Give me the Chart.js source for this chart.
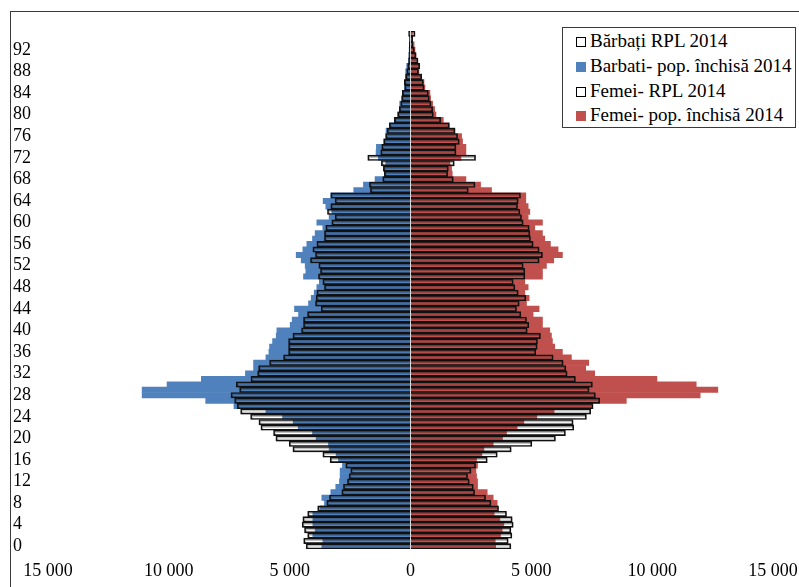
<!DOCTYPE html>
<html>
<head>
<meta charset="utf-8">
<script src="https://cdn.jsdelivr.net/npm/chart.js@4.4.1/dist/chart.umd.min.js"></script>
<style>
  body { margin: 0; background: #fff; }
  #wrap { position: absolute; left: 0; top: 0; width: 799px; height: 587px; overflow: hidden; }
  #pyramid { position: absolute; left: 0; top: 0; }
  #frame { position: absolute; left: 10px; top: 11px; width: 820px; height: 620px; border: 1px solid #3a3a3a; }
  #legend {
    position: absolute; left: 562px; top: 27px; width: 232px; height: 99px;
    border: 1px solid #3a3a3a; background: #fff;
    font-family: 'Liberation Serif', serif; font-size: 19px; color: #000;
  }
  .item { position: absolute; left: 13px; height: 22px; line-height: 22px; white-space: nowrap; }
  .box { display: inline-block; width: 10px; height: 10px; margin-right: 4px; vertical-align: 0px; box-sizing: border-box; }
</style>
</head>
<body>
<div id="wrap">
  <div id="frame"></div>
  <canvas id="pyramid" width="799" height="587"></canvas>
  <div id="legend">
    <div class="item" style="top:2px"><span class="box" style="border:1px solid #000;background:#fff"></span>Bărbați RPL 2014</div>
    <div class="item" style="top:27px"><span class="box" style="background:#4f81bd"></span>Barbati- pop. închisă 2014</div>
    <div class="item" style="top:52px"><span class="box" style="border:1px solid #000;background:#fff"></span>Femei- RPL 2014</div>
    <div class="item" style="top:76px"><span class="box" style="background:#c0504d"></span>Femei- pop. închisă 2014</div>
  </div>
</div>
<script>
// Ages 0..95 (index = age)
const ages = Array.from({ length: 96 }, (_, i) => String(i));

// Men, census RPL 2014
const menRPL = [
    4317, 4420, 4255, 4386, 4482, 4454, 4255, 3842, 3463, 3353,
    2843, 2774, 2609, 2540, 2472, 2678, 3325, 3628, 4867, 5019,
    5570, 5667, 6190, 6273, 6617, 7030, 7167, 7278, 7429, 7071,
    7209, 6603, 6327, 6286, 5832, 5253, 5046, 5046, 5046, 4867,
    4509, 4427, 4427, 4261, 3697, 3931, 3904, 3876, 3560, 3628,
    3808, 3725, 3794, 4138, 3931, 4041, 3876, 3560, 3560, 3505,
    3257, 3119, 3436, 3298, 3119, 3298, 1659, 1700, 1150, 1081,
    1122, 1205, 1769, 1232, 1191, 1108, 1026, 970, 874, 668,
    530, 461, 406, 365, 337, 240, 255, 200, 158, 117,
    80, 70, 60, 50, 40, 80
];
// Men, closed population 2014
const menClosed = [
    3670, 3628, 4041, 3945, 4041, 4041, 4041, 3746, 3560, 3670,
    3298, 3092, 2940, 2912, 2912, 2816, 2981, 3078, 3367, 3394,
    3904, 4055, 4648, 4854, 5295, 5983, 7305, 8475, 11105, 11105,
    10073, 8654, 6830, 6493, 6493, 5983, 5860, 5832, 5708, 5556,
    5529, 4978, 4895, 4633, 4799, 4220, 4110, 3986, 3876, 3773,
    4427, 4330, 4358, 4523, 4730, 4454, 4289, 4055, 3945, 3628,
    3876, 3367, 3257, 3505, 3615, 3298, 2348, 1948, 1467, 1081,
    1122, 1026, 1329, 1425, 1411, 1108, 1026, 1012, 874, 668,
    530, 461, 447, 365, 337, 250, 255, 213, 200, 158,
    80, 60, 50, 40, 30, 40
];
// Women, census RPL 2014
const womenRPL = [
    4152, 4041, 4193, 4152, 4248, 4207, 3973, 3643, 3326, 3105,
    2651, 2596, 2430, 2361, 2499, 2692, 3174, 3587, 4165, 5019,
    5997, 6410, 6754, 6727, 7278, 7457, 7553, 7828, 7649, 7388,
    7525, 6823, 6479, 6424, 6314, 5900, 5184, 5240, 5253, 5377,
    4827, 4895, 4799, 4565, 4386, 4496, 4771, 4455, 4317, 4248,
    4730, 4730, 4661, 5322, 5460, 5322, 5074, 4964, 4937, 4909,
    4661, 4593, 4524, 4427, 4455, 4551, 2389, 2665, 1770, 1535,
    1563, 1810, 2692, 1880, 1880, 2017, 1948, 1838, 1604, 1246,
    943, 916, 847, 778, 737, 558, 530, 461, 330, 379,
    310, 227, 158, 100, 90, 186
];
// Women, closed population 2014
const womenClosed = [
    3525, 3505, 3725, 3794, 3863, 3697, 3463, 3600, 3587, 3422,
    3174, 2775, 2775, 2733, 2706, 2775, 2733, 2954, 3036, 3422,
    3807, 3973, 4413, 4689, 5226, 5942, 7525, 8930, 11987, 12717,
    11822, 10197, 7622, 7250, 7374, 6658, 6286, 5969, 5873, 5832,
    5763, 5460, 5460, 5074, 5322, 4799, 4909, 4730, 4868, 4730,
    5460, 5460, 5625, 5928, 6286, 6107, 5790, 5556, 5460, 5143,
    5460, 4868, 4937, 4868, 4771, 4771, 3353, 2899, 2293, 1728,
    1700, 1632, 2086, 2293, 2293, 2155, 2114, 1838, 1604, 1356,
    1053, 998, 916, 833, 806, 599, 558, 461, 351, 330,
    270, 227, 186, 150, 60, 80
];

const xTicks = [-15000, -10000, -5000, 0, 5000, 10000, 15000];

const FONT = { family: "'Liberation Serif', serif", size: 18 };

function fmt(v) {
    return String(Math.abs(v)).replace(/\B(?=(\d{3})+(?!\d))/g, ' ');
}

const barBase = {
    grouped: false,
    categoryPercentage: 1,
    barPercentage: 1,
};

// light grey shadow under the census outlines, like the original Excel chart
const outlineShadow = {
    id: 'outlineShadow',
    beforeDatasetDraw(chart, args) {
        if (args.index === 0 || args.index === 2) {
            const c = chart.ctx;
            c.save();
            c.shadowColor = 'rgba(0,0,0,0.25)';
            c.shadowOffsetX = 1;
            c.shadowOffsetY = 1.5;
            c.shadowBlur = 0.5;
        }
    },
    afterDatasetDraw(chart, args) {
        if (args.index === 0 || args.index === 2) chart.ctx.restore();
    },
};

new Chart(document.getElementById('pyramid'), {
    type: 'bar',
    data: {
        labels: ages,
        datasets: [
            Object.assign({
                label: 'Bărbați RPL 2014',
                data: menRPL.map(v => -v),
                backgroundColor: 'rgba(255,255,255,0)',
                borderColor: '#111',
                borderWidth: 1,
                borderSkipped: 'start',
            }, barBase),
            Object.assign({
                label: 'Barbati- pop. închisă 2014',
                data: menClosed.map(v => -v),
                backgroundColor: '#4f81bd',
                borderWidth: 0,
            }, barBase),
            Object.assign({
                label: 'Femei- RPL 2014',
                data: womenRPL,
                backgroundColor: 'rgba(255,255,255,0)',
                borderColor: '#111',
                borderWidth: 1,
                borderSkipped: 'start',
            }, barBase),
            Object.assign({
                label: 'Femei- pop. închisă 2014',
                data: womenClosed,
                backgroundColor: '#c0504d',
                borderWidth: 0,
            }, barBase),
        ],
    },
    options: {
        indexAxis: 'y',
        responsive: false,
        animation: false,
        devicePixelRatio: 1,
        layout: { padding: { left: 13, top: 31, right: 26, bottom: 0 } },
        plugins: { legend: { display: false }, tooltip: { enabled: false } },
        scales: {
            x: {
                type: 'linear',
                min: -15000,
                max: 15000,
                afterBuildTicks: (scale) => { scale.ticks = xTicks.map(v => ({ value: v })); },
                afterFit: (scale) => {
                    scale.height = 38;
                    scale.paddingLeft = 0;
                    scale.paddingRight = 0;
                },
                ticks: {
                    autoSkip: false,
                    callback: (v) => fmt(v),
                    color: '#000',
                    font: FONT,
                    padding: 11,
                    maxRotation: 0,
                },
                grid: {
                    z: 1,
                    drawTicks: false,
                    color: (ctx) => (ctx.tick && ctx.tick.value === 0 ? '#d9d9d9' : 'rgba(0,0,0,0)'),
                },
                border: { display: false },
            },
            y: {
                type: 'category',
                reverse: true,
                afterFit: (scale) => { scale.width = 35; },
                ticks: {
                    autoSkip: false,
                    crossAlign: 'far',
                    color: '#000',
                    font: FONT,
                    callback: function (val, i) { return (i % 4 === 0 && i <= 92) ? ages[i] : ''; },
                },
                grid: { display: false, drawTicks: false },
                border: { display: false },
            },
        },
    },
    plugins: [outlineShadow],
});
</script>
</body>
</html>
